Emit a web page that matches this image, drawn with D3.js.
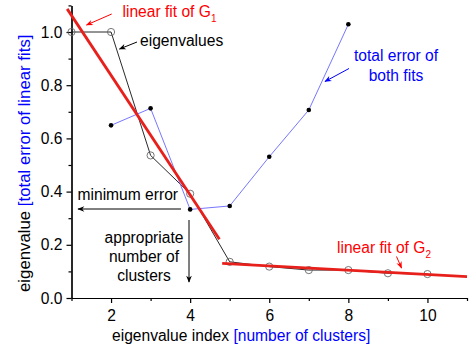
<!DOCTYPE html>
<html><head><meta charset="utf-8">
<script src="https://cdn.jsdelivr.net/npm/d3@7"></script>
<style>body{margin:0;background:#fff}svg{display:block;font-family:"Liberation Sans",Arial,sans-serif}</style>
</head><body><svg id="c" width="476" height="349"></svg>
<script>
// data
const eigenIndex = [1,2,3,4,5,6,7,8,9,10];
const eigenValues = [1.0,1.0,0.536,0.392,0.136,0.118,0.105,0.105,0.093,0.090];
const errIndex = [2,3,4,5,6,7,8];
const errValues = [0.649,0.713,0.333,0.346,0.531,0.707,1.029];
const fitG1X = [0.89,4.74];
const fitG1Y = [1.087,0.221];
const fitG2X = [4.81,11];
const fitG2Y = [0.130,0.080];
const xMajorTicks = [2,4,6,8,10];
const xMinorTicks = [1,3,5,7,9,11];
const yMajorTicks = [0.0,0.2,0.4,0.6,0.8,1.0];
const yMinorTicks = [0.1,0.3,0.5,0.7,0.9,1.1];

const svg = d3.select("#c");
const x = d3.scaleLinear().domain([1,11]).range([71.5,467]);
const y = d3.scaleLinear().domain([0,1.1]).range([298,5.4]);
const FS = 15.6;

// axes
const gx = svg.append("g").attr("transform","translate(0,298)");
gx.call(d3.axisBottom(x).tickValues(xMajorTicks).tickSize(5).tickSizeOuter(0).tickPadding(7).tickFormat(d3.format("d")));
gx.append("g").call(d3.axisBottom(x).tickValues(xMinorTicks).tickSize(3).tickSizeOuter(0).tickFormat(""));
const gy = svg.append("g").attr("transform","translate(71.5,0)");
gy.call(d3.axisLeft(y).tickValues(yMajorTicks).tickSize(5).tickSizeOuter(0).tickPadding(4).tickFormat(d3.format(".1f")));
gy.append("g").call(d3.axisLeft(y).tickValues(yMinorTicks).tickSize(3).tickSizeOuter(0).tickFormat(""));
svg.selectAll(".domain").attr("stroke","#000").attr("stroke-width",1.2);
svg.selectAll(".tick line").attr("stroke","#000").attr("stroke-width",1.2);
svg.selectAll(".tick text").attr("font-size",FS).attr("font-family","Liberation Sans, Arial, sans-serif").attr("fill","#000");

// eigenvalue line
const eig = eigenIndex.map((d,i)=>[d,eigenValues[i]]);
const line = d3.line().x(d=>x(d[0])).y(d=>y(d[1]));
svg.append("path").datum(eig).attr("d",line).attr("fill","none").attr("stroke","#111").attr("stroke-width",0.9);
// error line
const err = errIndex.map((d,i)=>[d,errValues[i]]);
svg.append("path").datum(err).attr("d",line).attr("fill","none").attr("stroke","#6666ff").attr("stroke-width",0.9);
svg.selectAll(".circ").data(eig).enter().append("circle").attr("cx",d=>x(d[0])).attr("cy",d=>y(d[1])).attr("r",3.6)
  .attr("fill","none").attr("stroke","#666").attr("stroke-width",0.9);
svg.selectAll(".dot").data(err).enter().append("circle").attr("cx",d=>x(d[0])).attr("cy",d=>y(d[1])).attr("r",2.3).attr("fill","#000");

// fits
[[fitG1X,fitG1Y],[fitG2X,fitG2Y]].forEach(([fx,fy])=>{
  svg.append("path").datum(fx.map((d,i)=>[d,fy[i]])).attr("d",line).attr("fill","none").attr("stroke","#e8201c").attr("stroke-width",2.8);
});

// arrow helper
const defs = svg.append("defs");
function marker(id,col){
  defs.append("marker").attr("id",id).attr("viewBox","0 0 10 10").attr("refX",9).attr("refY",5)
   .attr("markerWidth",9).attr("markerHeight",7).attr("markerUnits","userSpaceOnUse").attr("orient","auto")
   .append("path").attr("d","M0,1 L10,5 L0,9 L3,5 Z").attr("fill",col);
}
marker("aR","#ff0000"); marker("aK","#000"); marker("aB","#0000ff");
function arrow(x1,y1,x2,y2,col,m){
  svg.append("line").attr("x1",x1).attr("y1",y1).attr("x2",x2).attr("y2",y2).attr("stroke",col).attr("stroke-width",1).attr("marker-end",`url(#${m})`);
}
function txt(t,xx,yy,col,anchor){
  return svg.append("text").attr("x",xx).attr("y",yy).attr("fill",col).attr("font-size",FS).attr("text-anchor",anchor||"start").text(t);
}

// annotations
const t1 = txt("linear fit of G",122.5,17,"#ff0000");
t1.append("tspan").attr("font-size",10).attr("dy",4.5).text("1");
arrow(111.7,14,86.5,25,"#ff0000","aR");

txt("eigenvalues",140,46,"#000");
arrow(137,42,119.5,49,"#000","aK");

txt("total error of",396,61,"#0000ff","middle");
txt("both fits",396,80.5,"#0000ff","middle");
arrow(349,68.5,325,81.5,"#0000ff","aB");

txt("minimum error",77.5,199.5,"#000");
arrow(181,209,78,209,"#000","aK");

txt("appropriate",144,243,"#000","middle");
txt("number of",144,262,"#000","middle");
txt("clusters",144,281,"#000","middle");
arrow(189,220,189,282,"#000","aK");

const t2 = txt("linear fit of G",337,253,"#ff0000");
t2.append("tspan").attr("font-size",10).attr("dy",4.5).text("2");
arrow(396.5,256.5,401.5,268,"#ff0000","aR");

// axis labels
const xl = svg.append("text").attr("x",112).attr("y",341).attr("font-size",FS).attr("fill","#000");
xl.append("tspan").text("eigenvalue index ");
xl.append("tspan").attr("fill","#0000ff").text("[number of clusters]");
const yl = svg.append("text").attr("transform","translate(30,292) rotate(-90)").attr("font-size",16.8).attr("fill","#000");
yl.append("tspan").text("eigenvalue ");
yl.append("tspan").attr("fill","#0000ff").text("[total error of linear fits]");
</script></body></html>
